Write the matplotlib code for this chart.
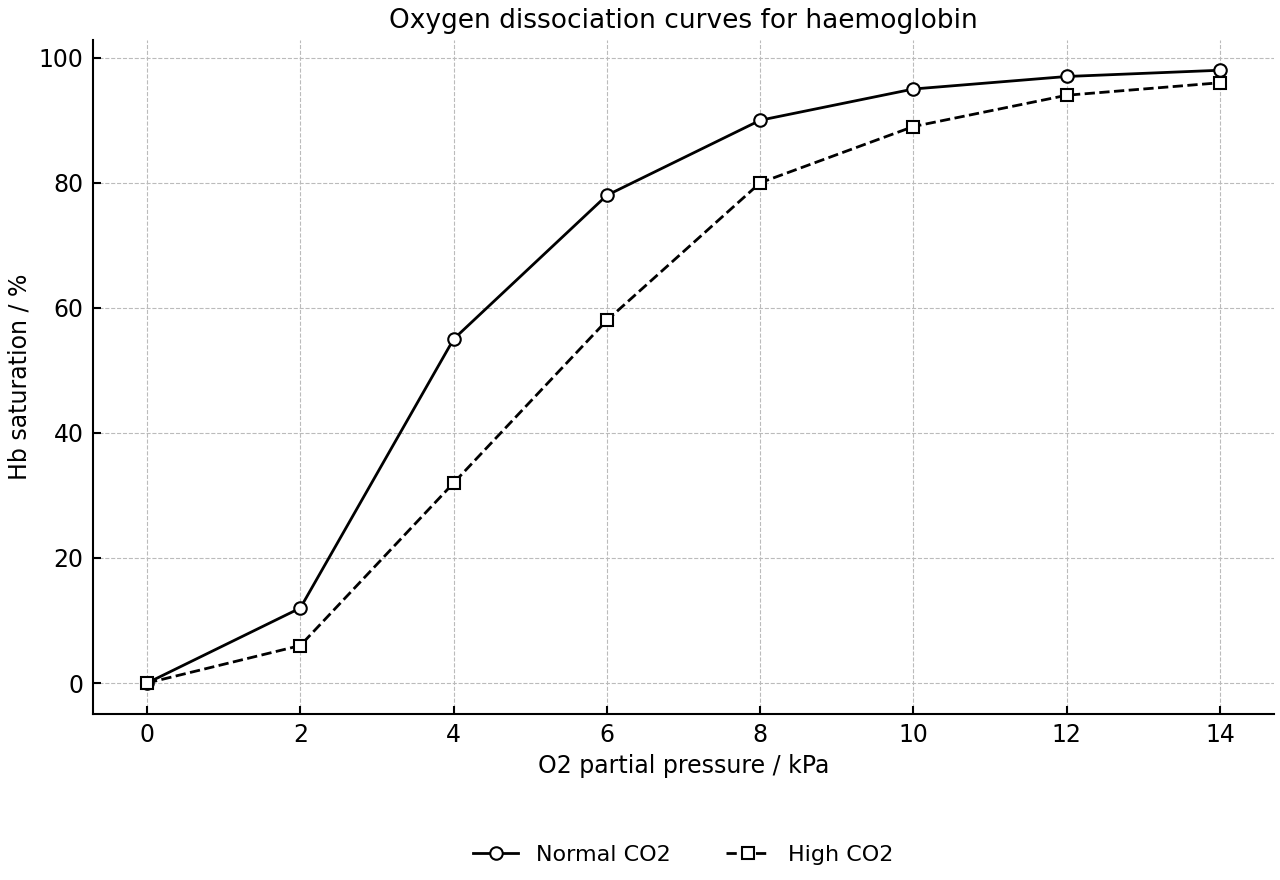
import matplotlib
matplotlib.use("Agg")
import matplotlib.pyplot as plt

# O2 partial pressure (kPa) and Hb saturation (%)
pressure = [0, 2, 4, 6, 8, 10, 12, 14]
normal_co2 = [0, 12, 55, 78, 90, 95, 97, 98]
high_co2 = [0, 6, 32, 58, 80, 89, 94, 96]

fig, ax = plt.subplots(figsize=(12.8, 8.8), dpi=100)
fig.subplots_adjust(left=0.073, right=0.995, top=0.955, bottom=0.189)

ax.plot(pressure, normal_co2, color="black", lw=2, ls="-", marker="o",
        ms=9, mfc="white", mec="black", mew=1.5, label="Normal CO2")
ax.plot(pressure, high_co2, color="black", lw=2, ls="--", marker="s",
        ms=9, mfc="white", mec="black", mew=1.5, label="High CO2")

ax.set_title("Oxygen dissociation curves for haemoglobin", fontsize=19, pad=8)
ax.set_xlabel("O2 partial pressure / kPa", fontsize=17, labelpad=5)
ax.set_ylabel("Hb saturation / %", fontsize=17, labelpad=5)
ax.set_xticks(range(0, 15, 2))
ax.set_yticks(range(0, 101, 20))
ax.tick_params(direction="in", labelsize=17, length=6, width=1.5, pad=7)
ax.grid(True, ls="--", color="#bbbbbb", lw=0.8)
ax.set_axisbelow(True)
for side in ("top", "right"):
    ax.spines[side].set_visible(False)
for side in ("left", "bottom"):
    ax.spines[side].set_linewidth(1.5)

ax.legend(loc="upper center", bbox_to_anchor=(0.5, -0.165), ncol=2,
          frameon=False, fontsize=16, columnspacing=2.5)

fig.savefig("out.png")
